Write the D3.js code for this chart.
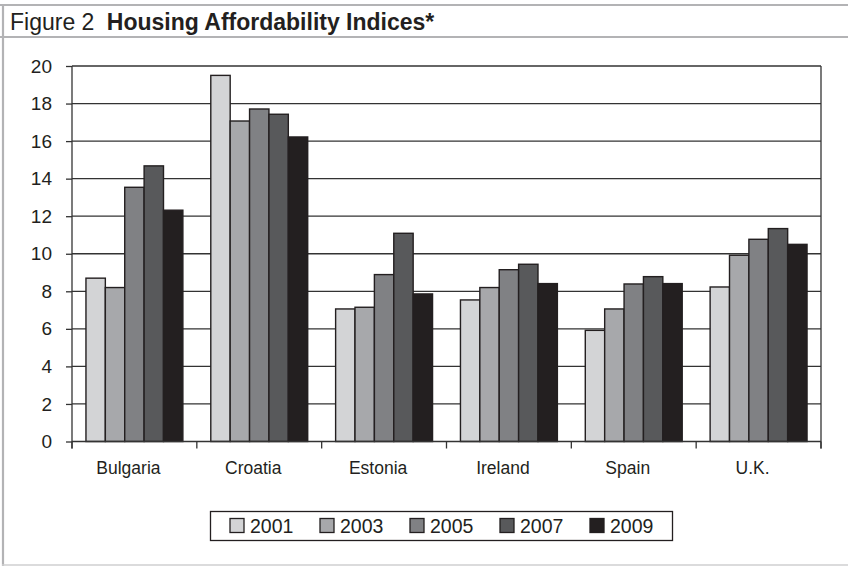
<!DOCTYPE html>
<html>
<head>
<meta charset="utf-8">
<script src="https://cdn.jsdelivr.net/npm/d3@7"></script>
<style>
  html, body { margin: 0; padding: 0; background: #fff; }
  svg { display: block; }
  text { font-family: "Liberation Sans", Arial, sans-serif; fill: #231f20; }
</style>
</head>
<body>
<svg id="chart" width="848" height="566"></svg>
<script>
const categories = ["Bulgaria", "Croatia", "Estonia", "Ireland", "Spain", "U.K."];
const years = ["2001", "2003", "2005", "2007", "2009"];
const v2001 = [8.7, 19.5, 7.06, 7.54, 5.92, 8.23];
const v2003 = [8.2, 17.07, 7.15, 8.2, 7.06, 9.92];
const v2005 = [13.54, 17.71, 8.89, 9.15, 8.39, 10.77];
const v2007 = [14.68, 17.43, 11.09, 9.44, 8.78, 11.34];
const v2009 = [12.32, 16.22, 7.86, 8.41, 8.41, 10.5];
const yTicks = [0, 2, 4, 6, 8, 10, 12, 14, 16, 18, 20];
const colors = ["#d3d4d6", "#a7a8ab", "#808184", "#58595b", "#231f20"];

const seriesValues = [v2001, v2003, v2005, v2007, v2009];
const data = categories.map((c, i) => ({
  category: c,
  values: years.map((y, j) => ({ year: y, value: seriesValues[j][i] }))
}));

const svg = d3.select("#chart");
const W = 848, H = 566;
const L = 72, R = 821, T = 66, B = 441.5;

// Frame
const frameColor = "#b3b3b5";
svg.append("line").attr("x1", 0).attr("x2", W).attr("y1", 5).attr("y2", 5)
  .attr("stroke", frameColor).attr("stroke-width", 2.2);
svg.append("line").attr("x1", 0).attr("x2", W).attr("y1", 37).attr("y2", 37)
  .attr("stroke", frameColor).attr("stroke-width", 2.2);
svg.append("line").attr("x1", 3).attr("x2", 3).attr("y1", 4).attr("y2", 566)
  .attr("stroke", frameColor).attr("stroke-width", 2.2);
svg.append("line").attr("x1", 2).attr("x2", W).attr("y1", 565).attr("y2", 565)
  .attr("stroke", "#cfcfd1").attr("stroke-width", 1.6);

// Title
const title = svg.append("text").attr("x", 10).attr("y", 30).attr("font-size", 23);
title.append("tspan").text("Figure 2 ");
title.append("tspan").attr("font-weight", "bold").attr("dx", 6).text("Housing Affordability Indices*");

const x0 = d3.scaleBand().domain(categories).range([L, R]).padding(0);
const x1 = d3.scaleBand().domain(years).range([0, x0.bandwidth()]).paddingInner(0).paddingOuter(0.72);
const y = d3.scaleLinear().domain([0, 20]).range([B, T]);
const color = d3.scaleOrdinal().domain(years).range(colors);

const lineColor = "#333333";

// Gridlines
svg.append("g").attr("class", "grid")
  .selectAll("line").data(yTicks.filter(d => d > 0)).join("line")
  .attr("x1", L).attr("x2", R)
  .attr("y1", d => y(d)).attr("y2", d => y(d))
  .attr("stroke", lineColor).attr("stroke-width", 1.3);

// Right border
svg.append("line").attr("x1", R).attr("x2", R).attr("y1", T).attr("y2", B + 7)
  .attr("stroke", lineColor).attr("stroke-width", 1.3);

// Bars
svg.append("g").selectAll("g").data(data).join("g")
  .attr("transform", d => `translate(${x0(d.category)},0)`)
  .selectAll("rect").data(d => d.values).join("rect")
  .attr("x", d => x1(d.year))
  .attr("width", x1.bandwidth())
  .attr("y", d => y(d.value))
  .attr("height", d => y(0) - y(d.value))
  .attr("fill", d => color(d.year))
  .attr("stroke", "#231f20")
  .attr("stroke-width", 1.4);

// Y axis
const yAxis = d3.axisLeft(y).tickValues(yTicks).tickSize(6).tickPadding(14).tickFormat(d3.format("d"));
const gy = svg.append("g").attr("transform", `translate(${L},0)`).call(yAxis);
gy.select(".domain").remove();
gy.selectAll(".tick line").attr("stroke", lineColor).attr("stroke-width", 1.3);
gy.selectAll(".tick text").attr("font-size", 19).attr("fill", "#231f20")
  .attr("font-family", "'Liberation Sans', Arial, sans-serif");
svg.append("line").attr("x1", L).attr("x2", L).attr("y1", T).attr("y2", B + 7)
  .attr("stroke", lineColor).attr("stroke-width", 1.3);

// X axis
svg.append("line").attr("x1", L).attr("x2", R).attr("y1", B).attr("y2", B)
  .attr("stroke", lineColor).attr("stroke-width", 1.3);
const boundaries = categories.map(c => x0(c)).concat([R]);
svg.append("g").selectAll("line").data(boundaries).join("line")
  .attr("x1", d => d).attr("x2", d => d).attr("y1", B).attr("y2", B + 7)
  .attr("stroke", lineColor).attr("stroke-width", 1.3);
svg.append("g").selectAll("text").data(categories).join("text")
  .attr("x", d => x0(d) + x0.bandwidth() / 2 - 6)
  .attr("y", 474)
  .attr("text-anchor", "middle")
  .attr("font-size", 17.5)
  .text(d => d);

// Legend
const lg = svg.append("g");
lg.append("rect").attr("x", 210.5).attr("y", 511.5).attr("width", 462).attr("height", 29)
  .attr("fill", "#fff").attr("stroke", "#231f20").attr("stroke-width", 1.3);
const items = lg.selectAll("g").data(years).join("g")
  .attr("transform", (d, i) => `translate(${230 + i * 90},0)`);
items.append("rect").attr("x", 0).attr("y", 518.5).attr("width", 14).attr("height", 14)
  .attr("fill", d => color(d)).attr("stroke", "#231f20").attr("stroke-width", 1.3);
items.append("text").attr("x", 20).attr("y", 533).attr("font-size", 19.5).text(d => d);
</script>
</body>
</html>
